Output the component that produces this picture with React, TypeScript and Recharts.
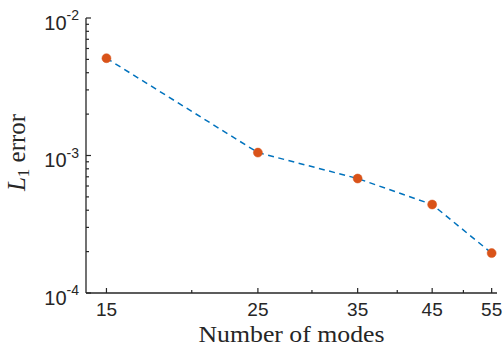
import { ComposedChart, Line, XAxis, YAxis } from "recharts";

// data (log-log plot)
const modes = [15, 25, 35, 45, 55];
const l1Errors = [5.1e-3, 1.05e-3, 6.8e-4, 4.4e-4, 1.95e-4];

// tick values
const xMajorTicks = [15, 25, 35, 45, 55];
const xMinorTicks = [20, 30, 40, 50];
const yMajorTicks = [1e-4, 1e-3, 1e-2];
const yMajorExponents = ["-4", "-3", "-2"];
const yMinorTicks = [
  2e-4, 3e-4, 4e-4, 5e-4, 6e-4, 7e-4, 8e-4, 9e-4,
  2e-3, 3e-3, 4e-3, 5e-3, 6e-3, 7e-3, 8e-3, 9e-3,
];

const AXIS = "#262626";
const SANS = '"Liberation Sans", Arial, Helvetica, sans-serif';
const SERIF = '"Liberation Serif", "Times New Roman", serif';

const chartData = modes.map((m, i) => ({ modes: m, err: l1Errors[i] }));

const majorIndex = (list: number[], v: number) =>
  list.findIndex((t) => Math.abs(t - v) / t < 1e-9);

const XTick = ({ x, y, payload, side }: any) => {
  const major = majorIndex(xMajorTicks, payload.value) !== -1;
  const len = major ? 5 : 3;
  const dir = side === "bottom" ? -1 : 1;
  return (
    <g>
      <line x1={x} y1={y} x2={x} y2={y + dir * len} stroke={AXIS} strokeWidth={1.2} />
      {side === "bottom" && major && (
        <text x={x} y={y + 23} textAnchor="middle" fontFamily={SANS} fontSize={19} fill={AXIS}>
          {payload.value}
        </text>
      )}
    </g>
  );
};

const YTick = ({ x, y, payload, side }: any) => {
  const idx = majorIndex(yMajorTicks, payload.value);
  const major = idx !== -1;
  const len = major ? 5 : 3;
  const dir = side === "left" ? 1 : -1;
  return (
    <g>
      <line x1={x} y1={y} x2={x + dir * len} y2={y} stroke={AXIS} strokeWidth={1.2} />
      {side === "left" && major && (
        <text x={x - 7} y={y + 11.5} textAnchor="end" fontFamily={SANS} fill={AXIS}>
          <tspan fontSize={20}>10</tspan>
          <tspan fontSize={14} dy={-9.5}>{yMajorExponents[idx]}</tspan>
        </text>
      )}
    </g>
  );
};

export default function App() {
  return (
    <div style={{ position: "absolute", left: 0, top: 0, width: 504, height: 349, background: "#fff" }}>
      <ComposedChart
        width={504}
        height={349}
        data={chartData}
        margin={{ top: 18, right: 7, bottom: 0, left: 0 }}
      >
        <XAxis
          dataKey="modes"
          type="number"
          scale="log"
          domain={[14, 56]}
          allowDataOverflow
          ticks={[...xMajorTicks, ...xMinorTicks]}
          interval={0}
          height={56}
          tickSize={0}
          tickMargin={0}
          tickLine={false}
          axisLine={{ stroke: AXIS, strokeWidth: 1.3 }}
          tick={(p: any) => <XTick {...p} side="bottom" />}
          label={{
            content: ({ viewBox }: any) => (
              <text
                x={viewBox.x + viewBox.width / 2}
                y={viewBox.y + 49}
                textAnchor="middle"
                fontFamily={SERIF}
                fontSize={24}
                textLength={186}
                lengthAdjust="spacingAndGlyphs"
                fill={AXIS}
              >
                Number of modes
              </text>
            ),
          }}
        />
        <XAxis
          xAxisId="top"
          dataKey="modes"
          orientation="top"
          type="number"
          scale="log"
          domain={[14, 56]}
          allowDataOverflow
          ticks={[...xMajorTicks, ...xMinorTicks]}
          interval={0}
          height={0}
          tickSize={0}
          tickMargin={0}
          tickLine={false}
          axisLine={{ stroke: AXIS, strokeWidth: 1.3 }}
          tick={(p: any) => <XTick {...p} side="top" />}
        />
        <YAxis
          type="number"
          scale="log"
          domain={[1e-4, 1e-2]}
          allowDataOverflow
          ticks={[...yMajorTicks, ...yMinorTicks]}
          interval={0}
          width={86}
          tickSize={0}
          tickMargin={0}
          tickLine={false}
          axisLine={{ stroke: AXIS, strokeWidth: 1.3 }}
          tick={(p: any) => <YTick {...p} side="left" />}
          label={{
            content: ({ viewBox }: any) => (
              <text
                transform={`translate(${viewBox.x + 25}, ${viewBox.y + viewBox.height / 2 - 3}) rotate(-90)`}
                textAnchor="middle"
                fontFamily={SERIF}
                fontSize={25}
                fill={AXIS}
              >
                <tspan fontStyle="italic">L</tspan>
                <tspan fontSize={17} dy={4}>1</tspan>
                <tspan dy={-4}> error</tspan>
              </text>
            ),
          }}
        />
        <YAxis
          yAxisId="right"
          orientation="right"
          type="number"
          scale="log"
          domain={[1e-4, 1e-2]}
          allowDataOverflow
          ticks={[...yMajorTicks, ...yMinorTicks]}
          interval={0}
          width={0}
          tickSize={0}
          tickMargin={0}
          tickLine={false}
          axisLine={{ stroke: AXIS, strokeWidth: 1.3 }}
          tick={(p: any) => <YTick {...p} side="right" />}
        />
        <Line
          type="linear"
          dataKey="err"
          stroke="#0072BD"
          strokeWidth={1.5}
          strokeDasharray="6 4.5"
          dot={{ r: 4.5, fill: "#D95319", stroke: "#D95319", strokeWidth: 0.5, strokeDasharray: "" }}
          activeDot={false}
          isAnimationActive={false}
        />
      </ComposedChart>
    </div>
  );
}
